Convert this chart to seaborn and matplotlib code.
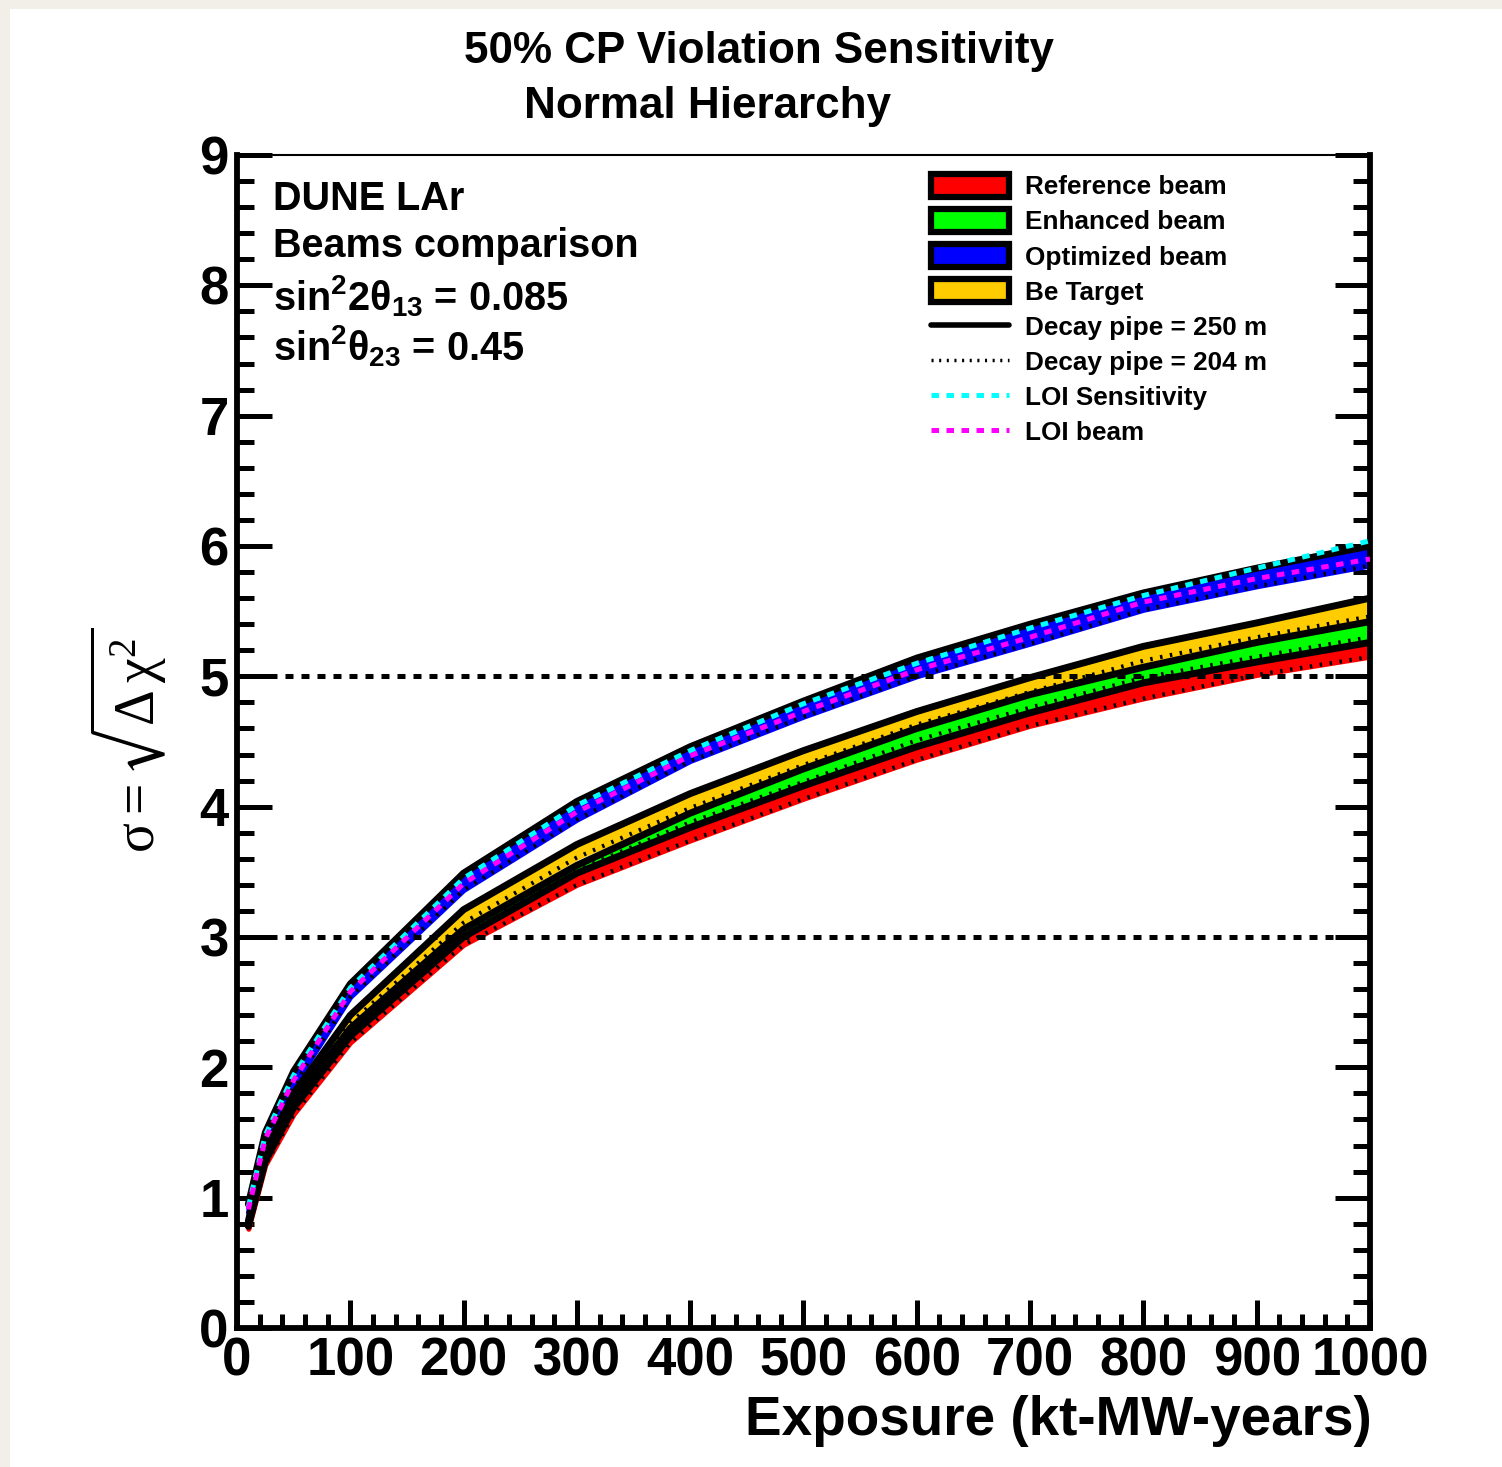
import numpy as np
import pandas as pd
import matplotlib
matplotlib.use("Agg")
import matplotlib.pyplot as plt
from matplotlib.patches import Patch, Rectangle
from matplotlib.lines import Line2D
from matplotlib.ticker import MultipleLocator
import seaborn as sns

# ---------------- data ----------------
exposure = [10, 25, 50, 100, 200, 300, 400, 500, 600, 700, 800, 900, 1000]

optimized_250 = [0.95, 1.50, 1.97, 2.64, 3.49, 4.04, 4.46, 4.81, 5.14, 5.40, 5.64, 5.83, 6.00]
optimized_204 = [0.88, 1.42, 1.86, 2.54, 3.36, 3.90, 4.35, 4.69, 5.00, 5.25, 5.51, 5.69, 5.85]
loi_sensitivity = [0.93, 1.48, 1.94, 2.61, 3.45, 4.01, 4.43, 4.79, 5.10, 5.37, 5.62, 5.83, 6.04]
loi_beam = [0.91, 1.45, 1.90, 2.58, 3.41, 3.96, 4.39, 4.73, 5.05, 5.30, 5.57, 5.75, 5.90]

betarget_250 = [0.82, 1.36, 1.80, 2.40, 3.21, 3.71, 4.10, 4.43, 4.73, 4.99, 5.23, 5.41, 5.60]
betarget_204 = [0.78, 1.30, 1.74, 2.34, 3.11, 3.61, 3.99, 4.32, 4.63, 4.88, 5.12, 5.30, 5.46]
enhanced_250 = [0.79, 1.31, 1.74, 2.30, 3.06, 3.55, 3.95, 4.29, 4.60, 4.86, 5.07, 5.26, 5.42]
enhanced_204 = [0.78, 1.29, 1.71, 2.28, 3.03, 3.51, 3.88, 4.19, 4.51, 4.76, 4.99, 5.15, 5.30]
reference_250 = [0.78, 1.28, 1.69, 2.24, 3.00, 3.49, 3.84, 4.16, 4.46, 4.72, 4.95, 5.11, 5.26]
reference_204 = [0.76, 1.25, 1.64, 2.19, 2.94, 3.40, 3.74, 4.06, 4.36, 4.62, 4.83, 5.01, 5.15]

beam_names = ["Reference beam", "Enhanced beam", "Optimized beam", "Be Target"]
beam_colors = ["#ff0000", "#00ff00", "#0000ff", "#ffcc00"]
line_names = ["Decay pipe = 250 m", "Decay pipe = 204 m", "LOI Sensitivity", "LOI beam"]
significance_levels = [3, 5]

# ---------------- style ----------------
sns.set_style("ticks")
plt.rcParams["font.family"] = ["Liberation Sans", "DejaVu Sans"]
plt.rcParams["font.weight"] = "bold"
plt.rcParams["mathtext.default"] = "regular"
for k in ["text.color", "axes.labelcolor", "xtick.color", "ytick.color", "axes.edgecolor"]:
    plt.rcParams[k] = "black"

W, H = 1502, 1467
fig = plt.figure(figsize=(W / 100, H / 100), dpi=100, facecolor="#f2efe9")
fig.add_artist(Rectangle((10 / W, 0), 1, 1 - 9 / H, transform=fig.transFigure,
                         facecolor="white", edgecolor="none", zorder=-5))

ax = fig.add_axes([237 / W, 1 - 1328 / H, (1370 - 237) / W, (1328 - 155) / H])
ax.set_facecolor("white")

bands = [
    (reference_250, reference_204, beam_colors[0]),
    (enhanced_250, enhanced_204, beam_colors[1]),
    (optimized_250, optimized_204, beam_colors[2]),
    (betarget_250, betarget_204, beam_colors[3]),
]

dotted = (0, (0.6, 1.8))
for up, lo, col in bands:
    ax.fill_between(exposure, lo, up, color=col, linewidth=3.5, edgecolor=col, zorder=2)
for up, lo, col in bands:
    sns.lineplot(x=exposure, y=up, ax=ax, color="black", linewidth=5.0,
                 legend=False, zorder=3, sort=True)
    sns.lineplot(x=exposure, y=lo, ax=ax, color="black", linewidth=3.0,
                 linestyle=dotted, legend=False, zorder=3, sort=True)

for lvl in significance_levels:
    ax.axhline(lvl, color="black", linewidth=3.6, linestyle=(0, (1.6, 1.6)), zorder=4)

sns.lineplot(x=exposure, y=loi_sensitivity, ax=ax, color="#00ffff", linewidth=3.6,
             linestyle=(0, (1.5, 1.5)), legend=False, zorder=5)
sns.lineplot(x=exposure, y=loi_beam, ax=ax, color="#ff00ff", linewidth=3.6,
             linestyle=(0, (1.5, 1.5)), legend=False, zorder=5)

ax.set_xlim(0, 1000)
ax.set_ylim(0, 9)
ax.set_xlabel("")
ax.set_ylabel("")

ax.xaxis.set_major_locator(MultipleLocator(100))
ax.xaxis.set_minor_locator(MultipleLocator(20))
ax.yaxis.set_major_locator(MultipleLocator(1))
ax.yaxis.set_minor_locator(MultipleLocator(0.2))

ax.tick_params(axis="x", which="major", direction="in", length=20, width=3.6,
               labelsize=38, pad=6, top=False, bottom=True, colors="black")
ax.tick_params(axis="x", which="minor", direction="in", length=10, width=3.6,
               top=False, bottom=True, colors="black")
ax.tick_params(axis="y", which="major", direction="in", length=25, width=3.6,
               labelsize=38, pad=6, left=True, right=True, colors="black")
ax.tick_params(axis="y", which="minor", direction="in", length=12, width=3.6,
               left=True, right=True, colors="black")
for lab in ax.get_xticklabels() + ax.get_yticklabels():
    lab.set_fontweight("bold")

for side in ["left", "bottom", "right"]:
    ax.spines[side].set_linewidth(4.2)
    ax.spines[side].set_color("black")
ax.spines["top"].set_linewidth(1.5)
ax.spines["top"].set_color("black")

# ---------------- texts ----------------
fig.text(759 / W, 1 - 63 / H, "50% CP Violation Sensitivity", ha="center",
         va="baseline", fontsize=31.7, fontweight="bold", color="black")
fig.text(708 / W, 1 - 118 / H, "Normal Hierarchy", ha="center",
         va="baseline", fontsize=31.7, fontweight="bold", color="black")

fig.text(1372 / W, 1 - 1435 / H, "Exposure (kt-MW-years)", ha="right",
         va="baseline", fontsize=39.5, fontweight="bold", color="black")

fig.text(128 / W, 1 - 740 / H, r"$\sigma = \sqrt{\Delta\,\chi^{2}}$", rotation=90,
         ha="center", va="center", fontsize=40, fontweight="normal", color="black",
         family=["Liberation Serif", "DejaVu Serif"], math_fontfamily="stix")

info = ["DUNE LAr", "Beams comparison",
        "sin$^{2}$2θ$_{13}$ = 0.085", "sin$^{2}$θ$_{23}$ = 0.45"]
info_base = [210, 257, 310, 360]
for t, b in zip(info, info_base):
    fig.text(273 / W, 1 - b / H, t, ha="left", va="baseline", fontsize=28.5,
             fontweight="bold", color="black")

# ---------------- legend ----------------
handles = [Patch(facecolor=c, edgecolor="black", linewidth=4.5) for c in beam_colors]
handles += [
    Line2D([], [], color="black", linewidth=4.0),
    Line2D([], [], color="black", linewidth=2.5, linestyle=(0, (0.6, 1.6))),
    Line2D([], [], color="#00ffff", linewidth=3.6, linestyle=(0, (1.5, 1.5))),
    Line2D([], [], color="#ff00ff", linewidth=3.6, linestyle=(0, (1.5, 1.5))),
]
labels = beam_names + line_names
leg = ax.legend(handles, labels, loc="upper left",
                bbox_to_anchor=(931 / W, 1 - 174 / H),
                bbox_transform=fig.transFigure, frameon=False,
                prop={"family": "Liberation Sans", "weight": "bold", "size": 18.8},
                handlelength=3.0, handleheight=0.95, handletextpad=0.6,
                labelspacing=0.38, borderpad=0, borderaxespad=0)
for t in leg.get_texts():
    t.set_color("black")

fig.savefig("out.png", dpi=100, facecolor=fig.get_facecolor())
